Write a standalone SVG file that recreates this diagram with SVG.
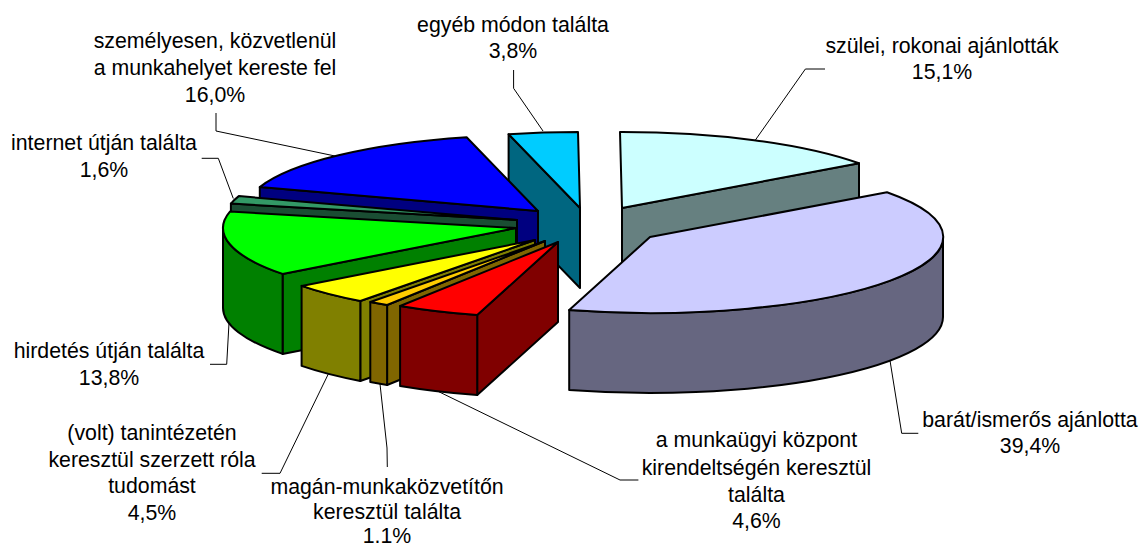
<svg xmlns="http://www.w3.org/2000/svg" width="1141" height="548" viewBox="0 0 1141 548">
<style>
.s{stroke:#000;stroke-width:2;stroke-linejoin:round}
.lead{fill:none;stroke:#000;stroke-width:1}
text{font-family:"Liberation Sans",Arial,sans-serif;font-size:21.3px;fill:#000;text-anchor:middle}
</style>
<rect width="1141" height="548" fill="#fff"/>
<g id="slice-egyeb">
<path class="s" fill="#006680" d="M580,208 L508.6,134.3 L508.6,214.3 L580,288 Z"/>
<path class="s" fill="#00CCFF" d="M580,208 L508.6,134.3 A293,76 0 0 1 578,132 Z"/>
</g>
<g id="slice-szulei">
<path class="s" fill="#668080" d="M622,208 L859,163.3 L859,243.3 L622,288 Z"/>
<path class="s" fill="#CCFFFF" d="M622,208 L620,132 A293,76 0 0 1 859,163.3 Z"/>
</g>
<g id="slice-szemelyesen">
<path class="s" fill="#000080" d="M538,211 L259.8,187.1 L259.8,267.1 L538,291 Z"/>
<path class="s" fill="#0000FF" d="M538,211 L259.8,187.1 A293,76 0 0 1 466.6,137.3 Z"/>
</g>
<g id="slice-internet">
<path class="s" fill="#1A4D33" d="M517,220 L230.9,203.6 L230.9,283.6 L517,300 Z"/>
<path class="s" fill="#339966" d="M517,220 L230.9,203.6 A293,76 0 0 1 238.8,196.1 Z"/>
</g>
<g id="slice-hirdetes">
<path class="s" fill="#008000" d="M516,228 L282.6,273.9 L282.6,353.9 L516,308 Z"/>
<path class="s" fill="#008000" d="M282.6,273.9 A293,76 0 0 1 223,228 L223,308 A293,76 0 0 0 282.6,353.9 Z"/>
<path class="s" fill="#00FF00" d="M516,228 L282.6,273.9 A293,76 0 0 1 229.9,211.6 Z"/>
</g>
<g id="slice-tanintezet">
<path class="s" fill="#808000" d="M535,240 L360.3,301 L360.3,381 L535,320 Z"/>
<path class="s" fill="#808000" d="M360.3,301 A293,76 0 0 1 301.6,285.9 L301.6,365.9 A293,76 0 0 0 360.3,381 Z"/>
<path class="s" fill="#FFFF00" d="M535,240 L360.3,301 A293,76 0 0 1 301.6,285.9 Z"/>
</g>
<g id="slice-magan">
<path class="s" fill="#806600" d="M545,241 L387.1,305 L387.1,385 L545,321 Z"/>
<path class="s" fill="#806600" d="M387.1,305 A293,76 0 0 1 370.3,302 L370.3,382 A293,76 0 0 0 387.1,385 Z"/>
<path class="s" fill="#FFCC00" d="M545,241 L387.1,305 A293,76 0 0 1 370.3,302 Z"/>
</g>
<g id="slice-munkaugyi">
<path class="s" fill="#800000" d="M558,242 L477.2,315.1 L477.2,395.1 L558,322 Z"/>
<path class="s" fill="#800000" d="M477.2,315.1 A293,76 0 0 1 400.1,306 L400.1,386 A293,76 0 0 0 477.2,395.1 Z"/>
<path class="s" fill="#FF0000" d="M558,242 L477.2,315.1 A293,76 0 0 1 400.1,306 Z"/>
</g>
<g id="slice-barat">
<path class="s" fill="#666680" d="M943,237 A293,76 0 0 1 569.2,310.1 L569.2,390.1 A293,76 0 0 0 943,317 Z"/>
<path class="s" fill="#CCCCFF" d="M650,237 L887,192.3 A293,76 0 0 1 569.2,310.1 Z"/>
</g>
<g id="connectors">
<path class="lead" d="M513.6,70 L513.6,88.3 L543,131"/>
<path class="lead" d="M825,69 L805.4,69 L755.4,140"/>
<path class="lead" d="M216,113 L216,131 L335,156"/>
<path class="lead" d="M201.7,158.3 L218.3,158.3 L233.3,198.5"/>
<path class="lead" d="M210,364.3 L226.7,364.3 L229,323"/>
<path class="lead" d="M261.7,473.3 L280,473.3 L328.3,374"/>
<path class="lead" d="M387.3,467 L387,448 L380,384"/>
<path class="lead" d="M638.4,480 L620,480 L438.4,391.5"/>
<path class="lead" d="M918.3,433.3 L901.7,433.3 L890,360.6"/>
</g>
<g id="label-egyeb"><text x="513" y="31.7">egyéb módon találta</text><text x="513" y="58.3">3,8%</text></g>
<g id="label-szulei"><text x="942" y="52.7">szülei, rokonai ajánlották</text><text x="942" y="79.3">15,1%</text></g>
<g id="label-szemelyesen"><text x="215" y="48.3">személyesen, közvetlenül</text><text x="215" y="74.5">a munkahelyet kereste fel</text><text x="215" y="101.5">16,0%</text></g>
<g id="label-internet"><text x="104" y="150">internet útján találta</text><text x="104" y="176.7">1,6%</text></g>
<g id="label-hirdetes"><text x="109" y="358.3">hirdetés útján találta</text><text x="109" y="385">13,8%</text></g>
<g id="label-tanintezet"><text x="152" y="439.5">(volt) tanintézetén</text><text x="152" y="466.5">keresztül szerzett róla</text><text x="152" y="493.3">tudomást</text><text x="152" y="519.5">4,5%</text></g>
<g id="label-magan"><text x="387" y="493.5">magán-munkaközvetítőn</text><text x="387" y="518.5">keresztül találta</text><text x="387" y="542.5">1.1%</text></g>
<g id="label-munkaugyi"><text x="756.5" y="446.7">a munkaügyi központ</text><text x="756.5" y="475">kirendeltségén keresztül</text><text x="756.5" y="501.7">találta</text><text x="756.5" y="528.3">4,6%</text></g>
<g id="label-barat"><text x="1030" y="426.5">barát/ismerős ajánlotta</text><text x="1030" y="452.5">39,4%</text></g>
</svg>
